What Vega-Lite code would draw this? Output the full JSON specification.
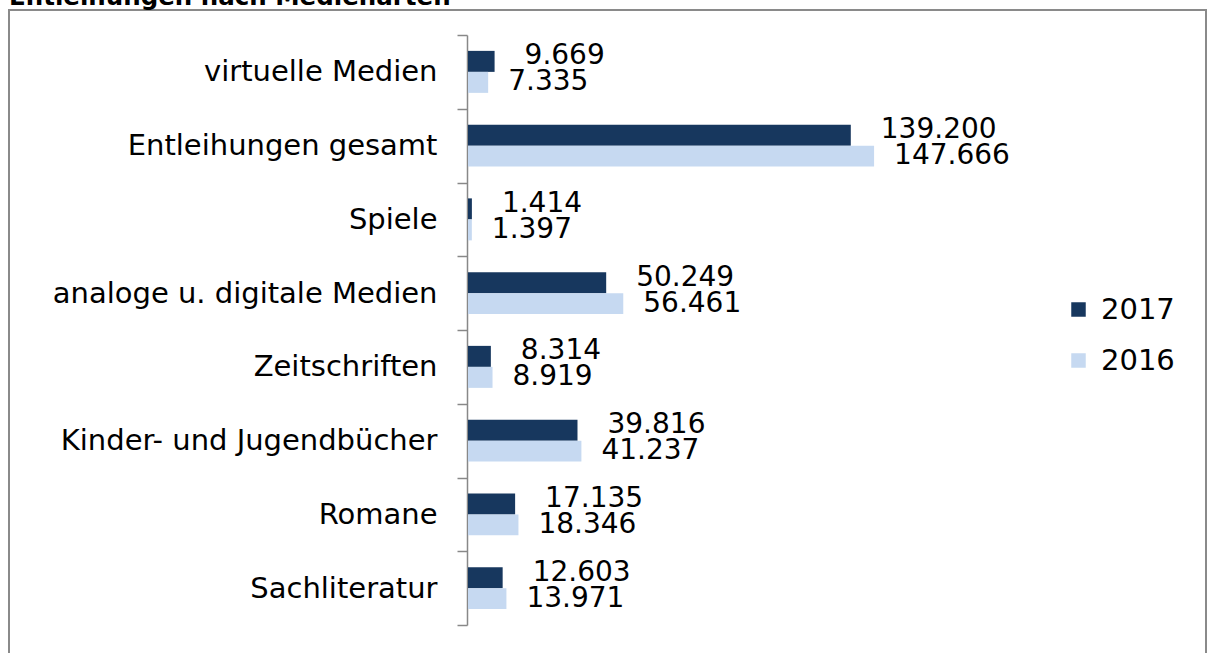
{
  "$schema": "https://vega.github.io/schema/vega-lite/v6.json",
  "width": 1197,
  "height": 650,
  "autosize": {"type": "none"},
  "padding": {"left": 9, "top": 10, "right": 2, "bottom": -7},
  "background": "white",
  "config": {
    "locale": {"number": {"decimal": ",", "thousands": ".", "grouping": [3], "currency": ["", " €"]}},
    "view": {"stroke": "#8a8a8a", "strokeWidth": 2},
    "font": "DejaVu Sans"
  },
  "title": {
    "text": "Entleihungen nach Medienarten",
    "anchor": "start",
    "frame": "group",
    "fontSize": 24.5,
    "fontWeight": "bold",
    "font": "DejaVu Sans",
    "color": "black",
    "offset": -14
  },
  "data": {
    "values": [
      {"cat": "virtuelle Medien", "year": "2017", "value": 9669},
      {"cat": "virtuelle Medien", "year": "2016", "value": 7335},
      {"cat": "Entleihungen gesamt", "year": "2017", "value": 139200},
      {"cat": "Entleihungen gesamt", "year": "2016", "value": 147666},
      {"cat": "Spiele", "year": "2017", "value": 1414},
      {"cat": "Spiele", "year": "2016", "value": 1397},
      {"cat": "analoge u. digitale Medien", "year": "2017", "value": 50249},
      {"cat": "analoge u. digitale Medien", "year": "2016", "value": 56461},
      {"cat": "Zeitschriften", "year": "2017", "value": 8314},
      {"cat": "Zeitschriften", "year": "2016", "value": 8919},
      {"cat": "Kinder- und Jugendbücher", "year": "2017", "value": 39816},
      {"cat": "Kinder- und Jugendbücher", "year": "2016", "value": 41237},
      {"cat": "Romane", "year": "2017", "value": 17135},
      {"cat": "Romane", "year": "2016", "value": 18346},
      {"cat": "Sachliteratur", "year": "2017", "value": 12603},
      {"cat": "Sachliteratur", "year": "2016", "value": 13971}
    ]
  },
  "encoding": {
    "y": {
      "field": "cat",
      "type": "nominal",
      "sort": null,
      "scale": {"range": [25, 615], "paddingInner": 0, "paddingOuter": 0},
      "axis": {
        "title": null,
        "offset": -458,
        "tickBand": "extent",
        "tickSize": 10,
        "tickColor": "#888888",
        "tickWidth": 1.5,
        "domainColor": "#888888",
        "domainWidth": 1.5,
        "labelFontSize": 29,
        "labelFont": "DejaVu Sans",
        "labelColor": "black",
        "labelPadding": 20,
        "labelLimit": 600,
        "grid": false
      }
    },
    "yOffset": {"field": "year", "type": "nominal", "sort": ["2017", "2016"], "scale": {"domain": ["2017", "2016"], "paddingInner": 0, "paddingOuter": 0.756}},
    "x": {
      "field": "value",
      "type": "quantitative",
      "scale": {"domain": [-166909, 268364], "nice": false},
      "axis": null
    }
  },
  "layer": [
    {
      "mark": {"type": "bar"},
      "encoding": {
        "x2": {"datum": 0},
        "color": {
          "field": "year",
          "type": "nominal",
          "sort": ["2017", "2016"],
          "scale": {"domain": ["2017", "2016"], "range": ["#17375E", "#C6D9F1"]},
          "legend": {
            "title": null,
            "orient": "none",
            "legendX": 1055,
            "legendY": 285,
            "symbolType": "square",
            "symbolSize": 210,
            "symbolStrokeWidth": 0,
            "symbolOpacity": 1,
            "labelFontSize": 29,
            "labelFont": "DejaVu Sans",
            "labelColor": "black",
            "rowPadding": 21,
            "labelOffset": 8,
            "padding": 0
          }
        }
      }
    },
    {
      "transform": [{"filter": "datum.year == '2017'"}],
      "mark": {"type": "text", "align": "left", "baseline": "middle", "dx": 30, "dy": -5, "fontSize": 28, "font": "DejaVu Sans", "color": "black"},
      "encoding": {"text": {"field": "value", "type": "quantitative", "format": ",d"}}
    },
    {
      "transform": [{"filter": "datum.year == '2016'"}],
      "mark": {"type": "text", "align": "left", "baseline": "middle", "dx": 20, "dy": 0, "fontSize": 28, "font": "DejaVu Sans", "color": "black"},
      "encoding": {"text": {"field": "value", "type": "quantitative", "format": ",d"}}
    }
  ]
}
